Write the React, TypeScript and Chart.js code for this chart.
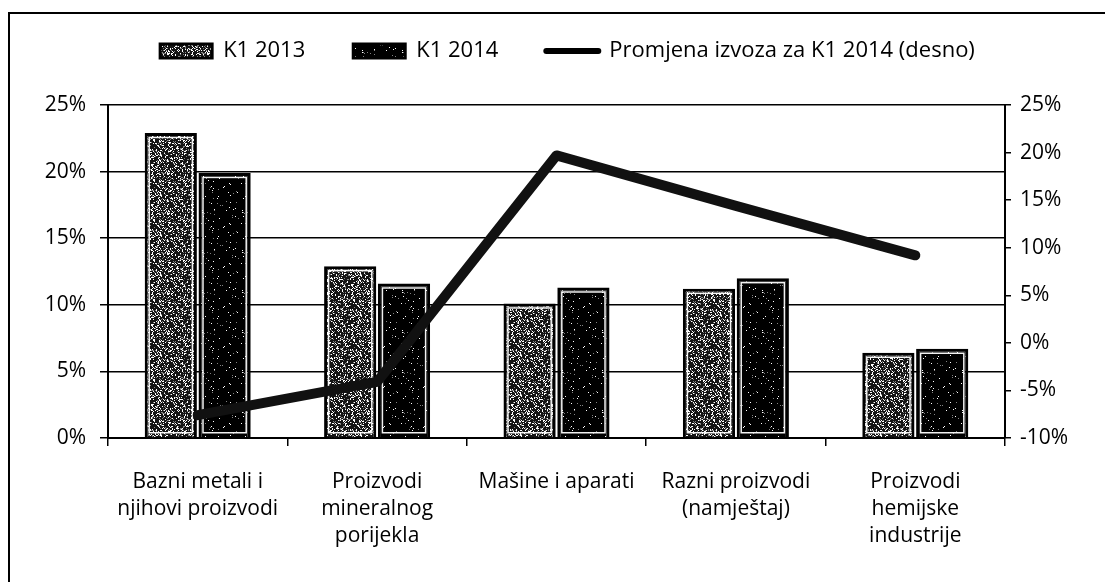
import React, { useEffect, useRef } from "react";
import { Chart, registerables } from "chart.js";

Chart.register(...registerables);

const categories: (string | string[])[] = [
  ["Bazni metali i", "njihovi proizvodi"],
  ["Proizvodi", "mineralnog", "porijekla"],
  "Mašine i aparati",
  ["Razni proizvodi", "(namještaj)"],
  ["Proizvodi", "hemijske", "industrije"],
];
const k12013: number[] = [22.9, 12.9, 10.1, 11.2, 6.4];
const k12014: number[] = [19.9, 11.6, 11.3, 12.0, 6.7];
const promjena: number[] = [-7.6, -4.1, 19.7, 14.4, 9.2];
const leftTicks: number[] = [0, 5, 10, 15, 20, 25];
const rightTicks: number[] = [-10, -5, 0, 5, 10, 15, 20, 25];

const FONT = "'Open Sans', 'Noto Sans', sans-serif";

function hash(x: number, y: number, s: number): number {
  let h = (x * 374761393 + y * 668265263 + s * 2147483647) | 0;
  h = Math.imul(h ^ (h >>> 13), 1274126177);
  h = h ^ (h >>> 16);
  return (h >>> 0) / 4294967296;
}

function makePattern(white: number, grey: number, base: number, seed: number): CanvasPattern | string {
  const c = document.createElement("canvas");
  c.width = 40;
  c.height = 40;
  const g = c.getContext("2d");
  if (!g) return "#222";
  const img = g.createImageData(40, 40);
  for (let y = 0; y < 40; y++) {
    for (let x = 0; x < 40; x++) {
      const v = hash(x, y, seed);
      let col = base;
      if (v < white) col = 255;
      else if (v < white + grey) col = 130;
      const i = (y * 40 + x) * 4;
      img.data[i] = col;
      img.data[i + 1] = col;
      img.data[i + 2] = col;
      img.data[i + 3] = 255;
    }
  }
  g.putImageData(img, 0, 0);
  const p = g.createPattern(c, "repeat");
  return p || "#222";
}

const framePlugin = {
  id: "frame",
  beforeDraw(chart: any) {
    const ctx = chart.ctx;
    ctx.save();
    ctx.strokeStyle = "#000";
    ctx.lineWidth = 2;
    ctx.beginPath();
    ctx.moveTo(8, 13);
    ctx.lineTo(chart.width, 13);
    ctx.moveTo(9, 12);
    ctx.lineTo(9, chart.height);
    ctx.stroke();
    ctx.restore();
  },
};

const innerLinePlugin = {
  id: "innerLine",
  afterDatasetDraw(chart: any, args: any) {
    const meta = args.meta;
    if (meta.type !== "bar") return;
    const ctx = chart.ctx;
    ctx.save();
    ctx.strokeStyle = "rgba(255,255,255,0.95)";
    ctx.lineWidth = 1.5;
    meta.data.forEach((el: any) => {
      const p = el.getProps(["x", "y", "base", "width"], true);
      const l = p.x - p.width / 2 + 4.5;
      const r = p.x + p.width / 2 - 4.5;
      const t = Math.min(p.y, p.base) + 4.5;
      const b = Math.max(p.y, p.base) - 4.5;
      if (r > l && b > t) ctx.strokeRect(l, t, r - l, b - t);
    });
    ctx.restore();
  },
};

export default function App() {
  const ref = useRef<HTMLCanvasElement | null>(null);

  useEffect(() => {
    if (!ref.current) return;
    Chart.defaults.color = "#000";
    Chart.defaults.font.family = FONT;

    const pat13 = makePattern(0.2, 0.12, 20, 1);
    const pat14 = makePattern(0.015, 0.015, 0, 2);

    const chart = new Chart(ref.current, {
      type: "bar",
      data: {
        labels: categories,
        datasets: [
          {
            type: "bar",
            label: "K1 2013",
            data: k12013,
            backgroundColor: pat13 as any,
            borderColor: "#000",
            borderWidth: 3,
            yAxisID: "y",
            order: 1,
            pointStyle: "rect",
          },
          {
            type: "bar",
            label: "K1 2014",
            data: k12014,
            backgroundColor: pat14 as any,
            borderColor: "#000",
            borderWidth: 3,
            yAxisID: "y",
            order: 1,
            pointStyle: "rect",
          },
          {
            type: "line",
            label: "Promjena izvoza za K1 2014 (desno)",
            data: promjena,
            borderColor: "#111",
            backgroundColor: "#111",
            borderWidth: 10,
            borderCapStyle: "round",
            borderJoinStyle: "round",
            pointRadius: 0,
            pointHoverRadius: 0,
            pointStyle: "line",
            tension: 0,
            yAxisID: "y1",
            order: 0,
          } as any,
        ],
      },
      options: {
        responsive: false,
        animation: false,
        layout: { padding: { top: -8, left: 30, right: 0, bottom: 0 } },
        datasets: {
          bar: { categoryPercentage: 0.6, barPercentage: 0.97 },
        },
        plugins: {
          tooltip: { enabled: false },
          legend: {
            position: "top",
            labels: {
              usePointStyle: true,
              pointStyleWidth: 52,
              boxHeight: 14,
              padding: 48,
              color: "#000",
              font: { size: 22, family: FONT },
              sort: (a: any, b: any) => a.datasetIndex - b.datasetIndex,
              generateLabels: (ch: any) => {
                const items = Chart.defaults.plugins.legend.labels.generateLabels(ch);
                return items.map((it: any) => {
                  if (it.datasetIndex === 2) {
                    return { ...it, pointStyle: "line", lineWidth: 6, strokeStyle: "#000", lineCap: "round" };
                  }
                  return { ...it, pointStyle: "rect", lineWidth: 3, strokeStyle: "#000" };
                });
              },
            },
          },
          title: {
            display: true,
            text: " ",
            weight: 500,
            font: { size: 10, lineHeight: 1 },
            padding: { top: 0, bottom: 23 },
          } as any,
        },
        scales: {
          x: {
            offset: true,
            grid: {
              display: true,
              drawOnChartArea: false,
              offset: true,
              color: "#000",
              lineWidth: 1.5,
              tickLength: 8,
            },
            border: { display: true, color: "#000", width: 2 },
            ticks: {
              color: "#000",
              padding: 22,
              maxRotation: 0,
              autoSkip: false,
              font: { size: 21, family: FONT, lineHeight: 1.3 },
            },
            afterFit: (s: any) => {
              s.height = 144;
            },
          },
          y: {
            position: "left",
            min: 0,
            max: 25,
            afterBuildTicks: (s: any) => {
              s.ticks = leftTicks.map((v) => ({ value: v }));
            },
            grid: { color: "#000", lineWidth: 1.5, tickLength: 8 },
            border: { display: true, color: "#000", width: 2 },
            ticks: {
              color: "#000",
              padding: 14,
              font: { size: 21, family: FONT },
              callback: (v: any) => v + "%",
            },
            afterFit: (s: any) => {
              s.width = 78;
            },
          },
          y1: {
            position: "right",
            min: -10,
            max: 25,
            afterBuildTicks: (s: any) => {
              s.ticks = rightTicks.map((v) => ({ value: v }));
            },
            grid: { drawOnChartArea: false, color: "#000", lineWidth: 1.5, tickLength: 6 },
            border: { display: true, color: "#000", width: 2 },
            ticks: {
              color: "#000",
              padding: 9,
              font: { size: 21, family: FONT },
              callback: (v: any) => v + "%",
            },
            afterFit: (s: any) => {
              s.width = 100;
            },
          },
        },
      },
      plugins: [framePlugin, innerLinePlugin],
    });

    return () => {
      chart.destroy();
    };
  }, []);

  return (
    <div style={{ position: "fixed", left: 0, top: 0, width: 1105, height: 582, background: "#fff" }}>
      <canvas ref={ref} width={1105} height={582} style={{ display: "block", width: 1105, height: 582 }} />
    </div>
  );
}
